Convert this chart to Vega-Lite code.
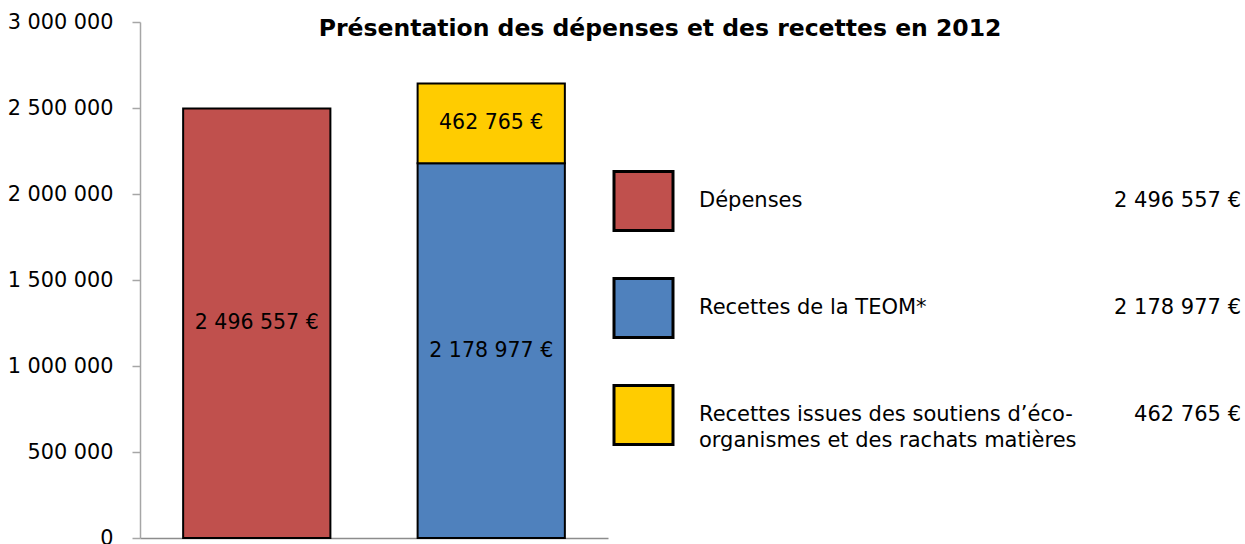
{
  "$schema": "https://vega.github.io/schema/vega-lite/v6.json",
  "background": "white",
  "padding": {"left": 7, "top": 11, "right": 5, "bottom": 0},
  "title": {
    "text": "Présentation des dépenses et des recettes en 2012",
    "font": "DejaVu Sans",
    "fontSize": 23.5,
    "fontWeight": "bold",
    "color": "black",
    "anchor": "middle",
    "offset": 0,
    "dx": 36,
    "dy": 29
  },
  "datasets": {
    "postes": [
      {"colonne": "Dépenses", "poste": "Dépenses", "montant": 2496557, "ordre": 1},
      {"colonne": "Recettes", "poste": "Recettes de la TEOM*", "montant": 2178977, "ordre": 2},
      {"colonne": "Recettes", "poste": "Recettes issues des soutiens d’éco-\norganismes et des rachats matières", "montant": 462765, "ordre": 3}
    ]
  },
  "spacing": 0,
  "hconcat": [
    {
      "width": 468,
      "height": 516,
      "data": {"name": "postes"},
      "encoding": {
        "x": {
          "field": "colonne",
          "type": "nominal",
          "sort": ["Dépenses", "Recettes"],
          "scale": {"paddingInner": 0.372, "paddingOuter": 0.184},
          "axis": {"title": null, "labels": false, "ticks": false, "domainColor": "#8c8c8c", "domainWidth": 1.5}
        },
        "y": {
          "field": "montant",
          "type": "quantitative",
          "stack": "zero",
          "scale": {"domain": [0, 3000000], "nice": false},
          "axis": {
            "title": null,
            "values": [0, 500000, 1000000, 1500000, 2000000, 2500000, 3000000],
            "format": ",.0f",
            "labelFont": "DejaVu Sans",
            "labelFontSize": 20.8,
            "labelColor": "black",
            "labelPadding": 19,
            "labelOverlap": false,
            "labelFlush": false,
            "tickColor": "#a6a6a6",
            "tickSize": 8,
            "tickWidth": 1.5,
            "domainColor": "#a6a6a6",
            "domainWidth": 1.5,
            "grid": false
          }
        },
        "order": {"field": "ordre", "type": "quantitative"}
      },
      "layer": [
        {
          "mark": {"type": "bar", "stroke": "black", "strokeWidth": 2},
          "encoding": {
            "color": {
              "field": "poste",
              "type": "nominal",
              "scale": {
                "domain": ["Dépenses", "Recettes de la TEOM*", "Recettes issues des soutiens d’éco-\norganismes et des rachats matières"],
                "range": ["#C0504D", "#4F81BD", "#FFCC00"]
              },
              "legend": null
            }
          }
        },
        {
          "mark": {"type": "text", "font": "DejaVu Sans", "fontSize": 20.5, "color": "black", "baseline": "middle"},
          "encoding": {
            "y": {"field": "montant", "type": "quantitative", "stack": "zero", "bandPosition": 0.5},
            "text": {"field": "montant", "type": "quantitative", "format": "$,.0f"}
          }
        }
      ]
    },
    {
      "width": 628,
      "height": 516,
      "data": {"name": "postes"},
      "encoding": {
        "y": {
          "field": "poste",
          "type": "nominal",
          "sort": ["Dépenses", "Recettes de la TEOM*", "Recettes issues des soutiens d’éco-\norganismes et des rachats matières"],
          "scale": {"type": "band", "paddingInner": 0, "paddingOuter": 0.911, "align": 0.644},
          "axis": null
        }
      },
      "layer": [
        {
          "mark": {"type": "point", "shape": "square", "filled": true, "size": 3481, "stroke": "black", "strokeWidth": 3, "opacity": 1},
          "encoding": {
            "x": {"datum": 30.5, "type": "quantitative", "scale": {"domain": [0, 628], "nice": false}, "axis": null},
            "fill": {
              "field": "poste",
              "type": "nominal",
              "scale": {
                "domain": ["Dépenses", "Recettes de la TEOM*", "Recettes issues des soutiens d’éco-\norganismes et des rachats matières"],
                "range": ["#C0504D", "#4F81BD", "#FFCC00"]
              },
              "legend": null
            }
          }
        },
        {
          "mark": {"type": "text", "align": "left", "baseline": "middle", "font": "DejaVu Sans", "fontSize": 21, "lineBreak": "\n", "lineHeight": 26, "color": "black"},
          "encoding": {
            "x": {"datum": 86, "type": "quantitative", "axis": null},
            "text": {"field": "poste", "type": "nominal"}
          }
        },
        {
          "mark": {"type": "text", "align": "right", "baseline": "middle", "font": "DejaVu Sans", "fontSize": 21, "color": "black"},
          "encoding": {
            "x": {"datum": 628, "type": "quantitative", "axis": null},
            "text": {"field": "montant", "type": "quantitative", "format": "$,.0f"}
          }
        }
      ]
    }
  ],
  "config": {
    "locale": {"number": {"decimal": ",", "thousands": " ", "grouping": [3], "currency": ["", " €"]}},
    "view": {"stroke": null},
    "axis": {"grid": false}
  }
}
